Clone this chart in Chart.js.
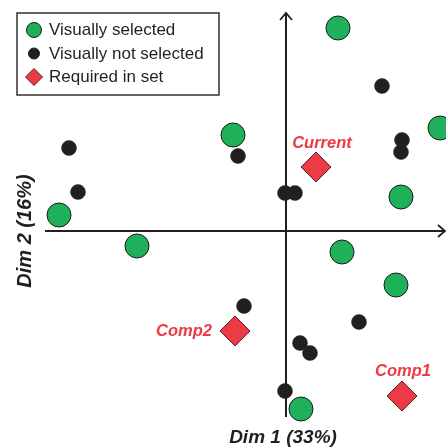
<!DOCTYPE html>
<html>
<head>
<meta charset="utf-8">
<script src="https://cdn.jsdelivr.net/npm/chart.js@4.4.0/dist/chart.umd.min.js"></script>
<style>
html,body{margin:0;padding:0;background:#fff;}
canvas{display:block;}
</style>
</head>
<body>
<canvas id="c" width="446" height="448"></canvas>
<script>
// ---- data ----
const seriesNames = ["Visually selected", "Visually not selected", "Required in set"];
const selectedX = [0.52, 1.54, -0.53, 1.15, -2.27, -1.49, 0.56, 1.10, 0.15];
const selectedY = [2.03, 1.03, 0.96, 0.34, 0.16, -0.15, -0.21, -0.54, -1.78];
const notSelectedX = [-2.17, -2.08, -0.48, 0.96, 1.16, 1.15, -0.01, 0.09, -0.42, 0.73, 0.14, 0.24, -0.01];
const notSelectedY = [0.83, 0.39, 0.75, 1.45, 0.91, 0.79, 0.38, 0.38, -0.75, -0.91, -1.12, -1.22, -1.60];
const requiredLabels = ["Current", "Comp2", "Comp1"];
const requiredX = [0.30, -0.51, 1.16];
const requiredY = [0.64, -1.00, -1.65];
const xTitle = "Dim 1 (33%)";
const yTitle = "Dim 2 (16%)";

const toPts = (xs, ys) => xs.map((x, i) => ({x: x, y: ys[i]}));

const GREEN = '#1fb05a', BLACK = '#231f20', RED = '#ec3b44', INK = '#231f20';

// label placement (style only)
const labelPlacement = {
  "Current": {dx: 6, dy: -24, align: 'center'},
  "Comp2": {dx: -23, dy: 0, align: 'right'},
  "Comp1": {dx: 1, dy: -25, align: 'center'}
};

const axesPlugin = {
  id: 'axesArrows',
  beforeDatasetsDraw(chart) {
    const ctx = chart.ctx, xs = chart.scales.x, ys = chart.scales.y, a = chart.chartArea;
    const x0 = xs.getPixelForValue(0), y0 = ys.getPixelForValue(0);
    ctx.save();
    ctx.strokeStyle = INK; ctx.lineWidth = 2; ctx.lineCap = 'butt';
    // horizontal axis
    ctx.beginPath(); ctx.moveTo(a.left, y0); ctx.lineTo(a.right - 1, y0); ctx.stroke();
    // vertical axis
    ctx.beginPath(); ctx.moveTo(x0, a.bottom); ctx.lineTo(x0, a.top); ctx.stroke();
    // arrow heads
    ctx.lineWidth = 1.8;
    ctx.beginPath();
    ctx.moveTo(a.right - 8, y0 - 6); ctx.lineTo(a.right - 1, y0); ctx.lineTo(a.right - 8, y0 + 6);
    ctx.stroke();
    ctx.beginPath();
    ctx.moveTo(x0 - 6, a.top + 7); ctx.lineTo(x0, a.top); ctx.lineTo(x0 + 6, a.top + 7);
    ctx.stroke();
    ctx.restore();
  },
  afterDraw(chart) {
    const ctx = chart.ctx, xs = chart.scales.x, ys = chart.scales.y;
    const x0 = xs.getPixelForValue(0), y0 = ys.getPixelForValue(0);
    ctx.save();
    ctx.fillStyle = INK;
    ctx.font = 'italic bold 19px "Liberation Sans", Arial, sans-serif';
    ctx.textAlign = 'center'; ctx.textBaseline = 'middle';
    ctx.fillText(xTitle, x0 - 3, 438);
    ctx.font = 'italic bold 20px "Liberation Sans", Arial, sans-serif';
    ctx.translate(25, y0);
    ctx.rotate(-Math.PI / 2);
    ctx.fillText(yTitle, 0, 0);
    ctx.restore();

    // labels for required points
    const meta = chart.getDatasetMeta(2);
    ctx.save();
    ctx.fillStyle = RED;
    ctx.font = 'italic bold 16.5px "Liberation Sans", Arial, sans-serif';
    ctx.textBaseline = 'middle';
    meta.data.forEach((el, i) => {
      const name = requiredLabels[i];
      const p = labelPlacement[name];
      ctx.textAlign = p.align;
      ctx.fillText(name, el.x + p.dx, el.y + p.dy);
    });
    ctx.restore();

    // legend box
    ctx.save();
    ctx.fillStyle = '#fff';
    ctx.fillRect(17, 13, 202, 82);
    ctx.strokeStyle = '#333'; ctx.lineWidth = 1.5;
    ctx.strokeRect(17, 13, 202, 82);
    ctx.font = '17px "Liberation Sans", Arial, sans-serif';
    ctx.textAlign = 'left'; ctx.textBaseline = 'middle';
    const rows = [30, 53.5, 77];
    chart.data.datasets.forEach((ds, i) => {
      const y = rows[i];
      ctx.fillStyle = ds.backgroundColor; ctx.strokeStyle = ds.borderColor; ctx.lineWidth = 1;
      ctx.beginPath();
      if (ds.pointStyle === 'rectRot') {
        const r = 8.5;
        ctx.moveTo(34 - r, y); ctx.lineTo(34, y - r); ctx.lineTo(34 + r, y); ctx.lineTo(34, y + r); ctx.closePath();
      } else {
        ctx.arc(34, y, i === 0 ? 7.5 : 5.5, 0, Math.PI * 2);
      }
      ctx.fill(); ctx.stroke();
      ctx.fillStyle = INK;
      ctx.fillText(ds.label, 49, y + 0.5);
    });
    ctx.restore();
  }
};

new Chart(document.getElementById('c'), {
  type: 'scatter',
  data: {
    datasets: [
      {label: seriesNames[0], data: toPts(selectedX, selectedY), pointStyle: 'circle', clip: false,
       backgroundColor: GREEN, borderColor: '#1a1a1a', borderWidth: 1, pointRadius: 12, order: 3},
      {label: seriesNames[1], data: toPts(notSelectedX, notSelectedY), pointStyle: 'circle', clip: false,
       backgroundColor: BLACK, borderColor: BLACK, borderWidth: 0.5, pointRadius: 7.5, order: 2},
      {label: seriesNames[2], data: toPts(requiredX, requiredY), pointStyle: 'rectRot', clip: false,
       backgroundColor: RED, borderColor: '#5a2226', borderWidth: 1, pointRadius: 15, order: 1}
    ]
  },
  options: {
    responsive: false,
    animation: false,
    layout: {autoPadding: false, padding: {left: 45, top: 13, right: 0, bottom: 31}},
    plugins: {legend: {display: false}, tooltip: {enabled: false}},
    elements: {point: {hoverRadius: 12}},
    scales: {
      x: {type: 'linear', min: -2.41, max: 1.60, display: false},
      y: {type: 'linear', min: -1.86, max: 2.18, display: false}
    }
  },
  plugins: [axesPlugin]
});
</script>
</body>
</html>
